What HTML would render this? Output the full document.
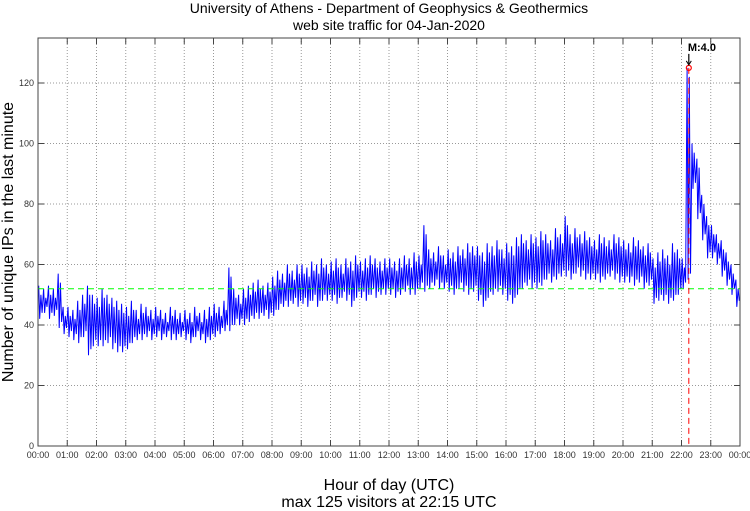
<!DOCTYPE html>
<html><head><meta charset="utf-8"><style>
body{margin:0;background:#fff;}
svg{display:block;font-family:"Liberation Sans",sans-serif;}
</style></head><body>
<svg id="c" width="750" height="511" viewBox="0 0 750 511"></svg>
<script>
const hiVals=[53,52,53,52,57,46, 46,45,48,50,53,50, 49,52,50,49,48,47, 46,48,45,47,46,45, 46,45,44,46,45,44, 45,44,46,44,45,46,
47,46,48,59,52,50, 52,53,54,55,53,54, 56,58,57,60,58,60, 60,59,61,60,62,60, 61,62,60,62,61,63, 61,62,63,62,61,62,
62,61,62,63,62,64, 63,73,65,64,66,63, 65,64,66,65,67,66, 66,64,67,66,68,65, 67,66,69,70,68,70, 69,71,70,68,72,70,
76,70,72,70,71,69, 68,70,69,68,70,69, 68,67,69,68,66,67, 62,64,65,63,67,65, 62,125,100,95,83,76, 73,70,68,64,60,55];
const loVals=[42,44,42,43,39,37, 36,35,34,36,30,33, 33,33,34,32,31,31, 32,34,35,35,36,35, 36,35,36,35,35,36, 35,34,36,35,34,35,
36,37,38,38,40,40, 40,41,42,42,43,42, 43,45,46,46,47,46, 47,46,48,46,48,48, 48,47,49,48,46,49, 49,48,50,49,50,50,
50,49,50,51,50,50, 52,51,52,53,52,52, 51,50,52,51,50,51, 48,46,49,50,51,50, 48,47,50,52,53,52, 52,53,55,54,55,56,
56,55,57,56,55,55, 55,54,55,56,55,54, 54,54,53,54,52,53, 47,48,48,47,48,50, 52,55,85,75,68,62, 62,60,56,53,50,46];
const meanLevel=52;
const maxValue=125;
const maxHour=22.25;
const yTicks=[0,20,40,60,80,100,120];
const xTickLabels=["00:00","01:00","02:00","03:00","04:00","05:00","06:00","07:00","08:00","09:00","10:00","11:00","12:00","13:00","14:00","15:00","16:00","17:00","18:00","19:00","20:00","21:00","22:00","23:00","00:00"];

const L=38,R=740,T=38,B=446;
const X=h=>L+(R-L)*h/24;
const Y=v=>B-(B-83)*v/120;
const svg=document.getElementById('c');
const NS="http://www.w3.org/2000/svg";
function mk(tag,attrs,parent){const e=document.createElementNS(NS,tag);for(const k in attrs)e.setAttribute(k,attrs[k]);(parent||svg).appendChild(e);return e;}
function txt(s,attrs){const e=mk('text',attrs);e.textContent=s;return e;}

const grid=mk('g',{});


for(let i=1;i<24;i++){const x=X(i);mk('line',{x1:x,y1:T,x2:x,y2:B,stroke:'#999','stroke-dasharray':'1,2','stroke-width':1},grid);
 mk('line',{x1:x,y1:B,x2:x,y2:B-6,stroke:'#444'},grid);mk('line',{x1:x,y1:T,x2:x,y2:T+6,stroke:'#444'},grid);}
yTicks.forEach(v=>{const y=Y(v);if(v>0)mk('line',{x1:L,y1:y,x2:R,y2:y,stroke:'#999','stroke-dasharray':'1,2','stroke-width':1},grid);
 mk('line',{x1:L,y1:y,x2:L+6,y2:y,stroke:'#444'},grid);mk('line',{x1:R,y1:y,x2:R-6,y2:y,stroke:'#444'},grid);
 const t=txt(String(v),{x:L-4,y:y+3,'text-anchor':'end','font-size':9,fill:'#333'});
 
 });
xTickLabels.forEach((s,i)=>{const t=txt(s,{x:X(i),y:B+12,'text-anchor':'middle','font-size':9,fill:'#333'});
 
 });

// series
let pts=[];
for(let i=0;i<hiVals.length;i++){const m=i*10;
 pts.push([m+1.5,hiVals[i]],[m+3.5,loVals[i]],[m+6,hiVals[i]-3],[m+8.5,loVals[i]+2]);}
const line=mk('polyline',{points:pts.map(p=>X(p[0]/60).toFixed(1)+','+Y(p[1]).toFixed(1)).join(' '),fill:'none',stroke:'#0000ff','stroke-width':1});



const ml=mk('line',{x1:L,y1:Y(meanLevel),x2:R,y2:Y(meanLevel),stroke:'#00ff00','stroke-dasharray':'6,4','stroke-width':1});


const vl=mk('line',{x1:X(maxHour),y1:Y(maxValue),x2:X(maxHour),y2:B,stroke:'#ff0000','stroke-dasharray':'6,4','stroke-width':1});


const mc=mk('circle',{cx:X(maxHour),cy:Y(maxValue),r:2.5,fill:'none',stroke:'#ff0000','stroke-width':1.2});


const ar=mk('line',{x1:X(maxHour),y1:Y(maxValue)-14,x2:X(maxHour),y2:Y(maxValue)-4,stroke:'#000','stroke-width':1.2});


mk('path',{d:`M${X(maxHour)-2.5},${Y(maxValue)-7} L${X(maxHour)},${Y(maxValue)-3} L${X(maxHour)+2.5},${Y(maxValue)-7}`,fill:'none',stroke:'#000'});
const ma=txt('M:4.0',{x:X(maxHour)-1,y:Y(maxValue)-17,'font-size':11,'font-weight':'bold',fill:'#000'});



const fr=mk('rect',{x:L,y:T,width:R-L,height:B-T,fill:'none',stroke:'#444','stroke-width':1});



const t1=txt('University of Athens - Department of Geophysics & Geothermics',{x:389,y:13,'text-anchor':'middle','font-size':14});


const t2=txt('web site traffic for 04-Jan-2020',{x:389,y:30,'text-anchor':'middle','font-size':14});


const xt=txt('Hour of day (UTC)',{x:389,y:490,'text-anchor':'middle','font-size':16});


const xs=txt('max 125 visitors at 22:15 UTC',{x:389,y:507,'text-anchor':'middle','font-size':16});


const yt=txt('Number of unique IPs in the last minute',{x:0,y:0,'text-anchor':'middle','font-size':16,transform:'translate(13,242) rotate(-90)'});


</script>
</body></html>
